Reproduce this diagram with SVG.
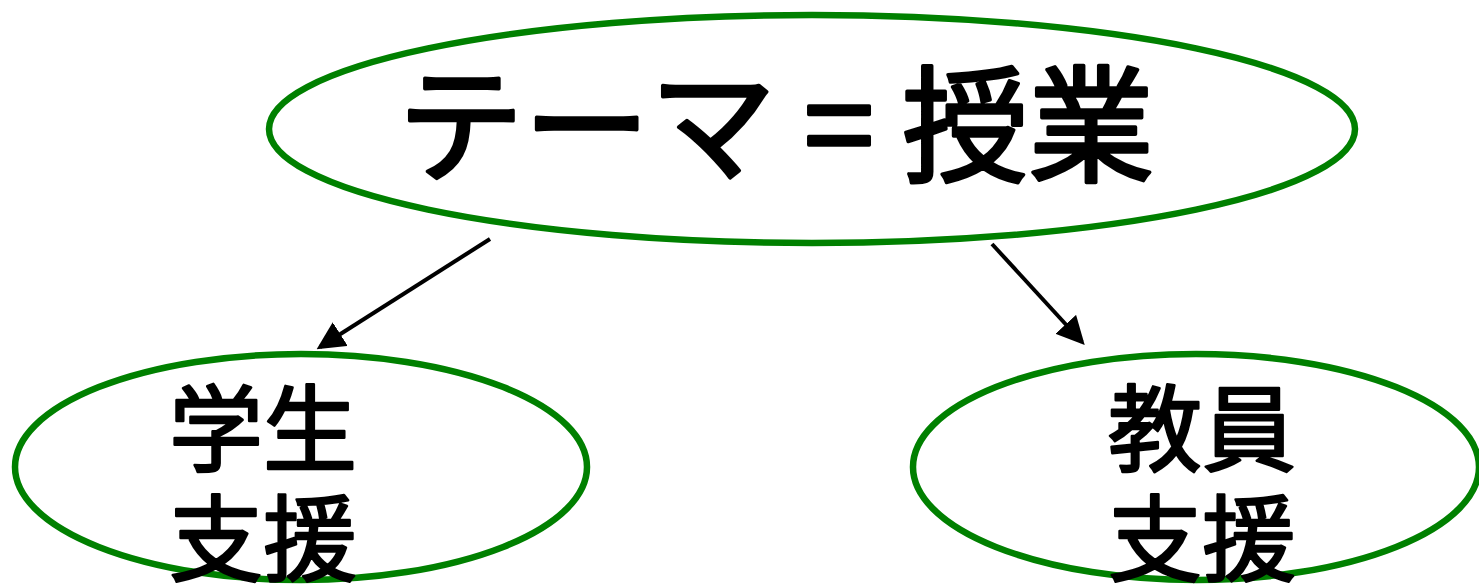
<svg xmlns="http://www.w3.org/2000/svg" width="1479" height="585" viewBox="0 0 1479 585">
<style>
.node{fill:#fff;stroke:#008000;stroke-width:6.5}
.t{font-family:"Noto Sans CJK JP","Noto Sans CJK SC",sans-serif;font-weight:normal;fill:#000;stroke:#000;stroke-linejoin:round}
.edge{stroke:#000;stroke-width:4;fill:none;marker-end:url(#ah)}
</style>
<defs>
<marker id="ah" markerWidth="7" markerHeight="7" refX="6" refY="3.5" orient="auto" markerUnits="strokeWidth">
<path d="M0,0 L7,3.5 L0,7 z" fill="#000"/>
</marker>
</defs>
<rect width="1479" height="585" fill="#fff"/>
<g id="top">
<ellipse class="node" cx="812" cy="129" rx="543" ry="114"/>
<text class="t" x="776" y="172" font-size="126" stroke-width="3.5" text-anchor="middle">テーマ = 授業</text>
</g>
<g id="student">
<ellipse class="node" cx="301" cy="467" rx="286" ry="113"/>
<text class="t" font-size="94" stroke-width="2.5" text-anchor="middle"><tspan x="263" y="464">学生</tspan><tspan x="263" y="574">支援</tspan></text>
</g>
<g id="teacher">
<ellipse class="node" cx="1196" cy="467" rx="283" ry="113"/>
<text class="t" font-size="94" stroke-width="2.5" text-anchor="middle"><tspan x="1202" y="464">教員</tspan><tspan x="1202" y="574">支援</tspan></text>
</g>
<g id="connectors">
<line class="edge" x1="490" y1="239" x2="320" y2="347"/>
<line class="edge" x1="992" y1="244" x2="1082" y2="342"/>
</g>
</svg>
